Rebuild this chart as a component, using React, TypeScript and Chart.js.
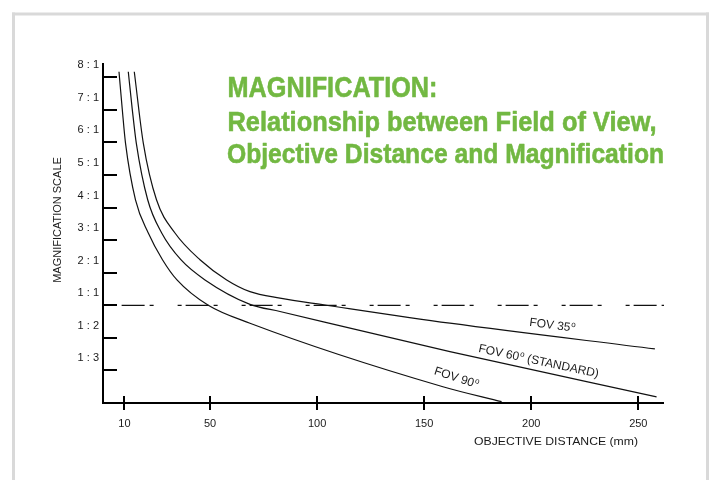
import React, { useEffect, useRef } from 'react';
import { Chart, registerables } from 'chart.js';

Chart.register(...registerables);

// ---- data (objective distance in mm, magnification-scale position: 1 = 1:3, 2 = 1:2, 3 = 1:1, 4 = 2:1 ... 10 = 8:1)
const fov90Distance = [7.47, 9.01, 10.51, 15.17, 21.15, 27.78, 34.55, 49.17, 68.64, 158.75, 186.16];
const fov90Scale = [10.17, 9.01, 7.98, 6.24, 5.22, 4.40, 3.78, 3.0, 2.45, 0.5, 0.04];

const fov60Distance = [11.81, 13.68, 15.55, 20.87, 27.41, 36.37, 47.63, 68.64, 82.65, 162.02, 258.53];
const fov60Scale = [10.17, 9.01, 7.98, 6.24, 5.22, 4.40, 3.78, 3.03, 2.81, 1.58, 0.19];

const fov35Distance = [14.61, 18.82, 24.98, 33.62, 45.29, 57.76, 68.64, 82.65, 103.66, 162.02, 257.74];
const fov35Scale = [10.17, 7.98, 6.24, 5.22, 4.40, 3.78, 3.42, 3.22, 3.01, 2.45, 1.66];

const referenceDistance = [8.7, 262];
const referenceScale = [3, 3];

const yTickValues = [1, 2, 3, 4, 5, 6, 7, 8, 9, 10];
const yTickLabels = ['1 : 3', '1 : 2', '1 : 1', '2 : 1', '3 : 1', '4 : 1', '5 : 1', '6 : 1', '7 : 1', '8 : 1'];
const xTickValues = [10, 50, 100, 150, 200, 250];
const xTickLabels = ['10', '50', '100', '150', '200', '250'];

const seriesNames = ['FOV 90', 'FOV 60', 'FOV 35'];
const seriesSuffixes = ['', ' (STANDARD)', ''];

const titleLines = ['MAGNIFICATION:', 'Relationship between Field of View,', 'Objective Distance and Magnification'];
const xAxisTitle = 'OBJECTIVE DISTANCE (mm)';
const yAxisTitle = 'MAGNIFICATION SCALE';

const X_MIN = 0;
const X_MAX = 262;
const Y_MIN = 0;
const Y_MAX = 10.44;

const SANS = '"Liberation Sans", Arial, Helvetica, sans-serif';
const INK = '#1a1a1a';
const GREEN = '#72b842';

function toPoints(xs: number[], ys: number[]) {
  return xs.map((x, i) => ({ x, y: ys[i] }));
}

function fitText(
  ctx: CanvasRenderingContext2D,
  text: string,
  x: number,
  y: number,
  font: string,
  width: number,
  stroke = 0
) {
  ctx.font = font;
  const m = ctx.measureText(text).width;
  ctx.save();
  ctx.translate(x, y);
  ctx.scale(width / m, 1);
  ctx.fillText(text, 0, 0);
  if (stroke > 0) {
    ctx.lineWidth = stroke;
    ctx.strokeStyle = ctx.fillStyle as string;
    ctx.lineJoin = 'round';
    ctx.strokeText(text, 0, 0);
  }
  ctx.restore();
}

const decorPlugin = {
  id: 'decor',
  beforeDraw(chart: any) {
    const ctx = chart.ctx as CanvasRenderingContext2D;
    ctx.save();
    ctx.fillStyle = '#ffffff';
    ctx.fillRect(0, 0, chart.width, chart.height);
    ctx.fillStyle = '#d9d9d9';
    ctx.fillRect(12, 12.5, 697, 3);
    ctx.fillRect(12, 12.5, 3, 470);
    ctx.fillRect(706, 12.5, 3, 470);
    ctx.restore();
  },
  afterDraw(chart: any) {
    const ctx = chart.ctx as CanvasRenderingContext2D;
    const xs = chart.scales.x;
    const ys = chart.scales.y;
    const x0 = xs.getPixelForValue(X_MIN);
    const x1 = xs.getPixelForValue(X_MAX);
    const y0 = ys.getPixelForValue(Y_MIN);
    const y1 = ys.getPixelForValue(Y_MAX);
    ctx.save();
    ctx.strokeStyle = '#000';
    ctx.lineWidth = 2;
    ctx.lineCap = 'butt';
    ctx.beginPath();
    ctx.moveTo(x0, y1);
    ctx.lineTo(x0, y0 + 1);
    ctx.moveTo(x0 - 1, y0);
    ctx.lineTo(x1, y0);
    ctx.stroke();
    // y ticks (inside)
    ctx.beginPath();
    yTickValues.forEach((v) => {
      const p = Math.round(ys.getPixelForValue(v));
      ctx.moveTo(x0, p);
      ctx.lineTo(x0 + 14, p);
    });
    // x ticks (crossing)
    xTickValues.forEach((v) => {
      const p = Math.round(xs.getPixelForValue(v));
      ctx.moveTo(p, y0 - 7);
      ctx.lineTo(p, y0 + 7);
    });
    ctx.stroke();

    // axis titles
    ctx.fillStyle = INK;
    ctx.textBaseline = 'middle';
    ctx.textAlign = 'left';
    fitText(ctx, xAxisTitle, 474, 442, `11.5px ${SANS}`, 164);
    ctx.save();
    ctx.translate(58, 220);
    ctx.rotate(-Math.PI / 2);
    ctx.textAlign = 'center';
    ctx.font = `11px ${SANS}`;
    ctx.fillText(yAxisTitle, 0, 0);
    ctx.restore();

    // curve labels
    const labelAnchors = [
      { d: 154.3, v: 0.89, a: 18 },
      { d: 175.1, v: 1.57, a: 12 },
      { d: 198.9, v: 2.37, a: 7.5 },
    ];
    ctx.textBaseline = 'alphabetic';
    ctx.textAlign = 'left';
    labelAnchors.forEach((la, i) => {
      const px = xs.getPixelForValue(la.d);
      const py = ys.getPixelForValue(la.v);
      ctx.save();
      ctx.translate(px, py);
      ctx.rotate((la.a * Math.PI) / 180);
      ctx.font = `12px ${SANS}`;
      ctx.fillText(seriesNames[i], 0, 0);
      const w = ctx.measureText(seriesNames[i]).width;
      ctx.font = `8px ${SANS}`;
      ctx.fillText('o', w + 0.5, -4.5);
      const ow = ctx.measureText('o').width;
      if (seriesSuffixes[i]) {
        ctx.font = `12px ${SANS}`;
        ctx.fillText(seriesSuffixes[i], w + ow + 0.5, 0);
      }
      ctx.restore();
    });

    // green title
    ctx.fillStyle = GREEN;
    fitText(ctx, titleLines[0], 227.5, 96.7, `bold 30px ${SANS}`, 210, 0.6);
    fitText(ctx, titleLines[1], 227.5, 130.7, `bold 28px ${SANS}`, 429, 0.6);
    fitText(ctx, titleLines[2], 227, 163.3, `bold 28px ${SANS}`, 437, 0.6);
    ctx.restore();
  },
};

export default function App() {
  const ref = useRef<HTMLCanvasElement | null>(null);
  useEffect(() => {
    const canvas = ref.current;
    if (!canvas) return;
    const curveStyle = {
      borderColor: '#111',
      borderWidth: 1.2,
      pointRadius: 0,
      cubicInterpolationMode: 'monotone' as const,
      fill: false,
    };
    const chart = new Chart(canvas, {
      type: 'line',
      data: {
        datasets: [
          { label: seriesNames[0], data: toPoints(fov90Distance, fov90Scale), ...curveStyle },
          { label: seriesNames[1], data: toPoints(fov60Distance, fov60Scale), ...curveStyle },
          { label: seriesNames[2], data: toPoints(fov35Distance, fov35Scale), ...curveStyle },
          {
            label: '1:1',
            data: toPoints(referenceDistance, referenceScale),
            borderColor: '#111',
            borderWidth: 1.3,
            pointRadius: 0,
            borderDash: [23, 5, 4, 24, 4, 4],
            tension: 0,
            fill: false,
          },
        ],
      },
      options: {
        responsive: false,
        animation: false,
        devicePixelRatio: 1,
        layout: { padding: { top: 63, right: 45, left: 0, bottom: 0 } },
        plugins: { legend: { display: false }, tooltip: { enabled: false } },
        scales: {
          x: {
            type: 'linear',
            min: X_MIN,
            max: X_MAX,
            grid: { display: false, drawTicks: false },
            border: { display: false },
            afterBuildTicks: (s: any) => {
              s.ticks = xTickValues.map((v) => ({ value: v }));
            },
            afterFit: (s: any) => {
              s.height = 77;
            },
            ticks: {
              autoSkip: false,
              maxRotation: 0,
              padding: 14,
              color: INK,
              font: { family: SANS, size: 11 },
              callback: (v: any) => {
                const i = xTickValues.indexOf(Number(v));
                return i >= 0 ? xTickLabels[i] : '';
              },
            },
          },
          y: {
            type: 'linear',
            min: Y_MIN,
            max: Y_MAX,
            grid: { display: false, drawTicks: false },
            border: { display: false },
            afterBuildTicks: (s: any) => {
              s.ticks = yTickValues.map((v) => ({ value: v }));
            },
            afterFit: (s: any) => {
              s.width = 103;
            },
            ticks: {
              autoSkip: false,
              padding: 4,
              labelOffset: -12,
              color: INK,
              font: { family: SANS, size: 11 },
              callback: (v: any) => {
                const i = yTickValues.indexOf(Number(v));
                return i >= 0 ? yTickLabels[i] : '';
              },
            },
          },
        },
      },
      plugins: [decorPlugin],
    });
    return () => chart.destroy();
  }, []);
  return (
    <div style={{ position: 'absolute', left: 0, top: 0, width: 709, height: 480, background: '#fff' }}>
      <canvas ref={ref} width={709} height={480} style={{ display: 'block', width: 709, height: 480 }} />
    </div>
  );
}
